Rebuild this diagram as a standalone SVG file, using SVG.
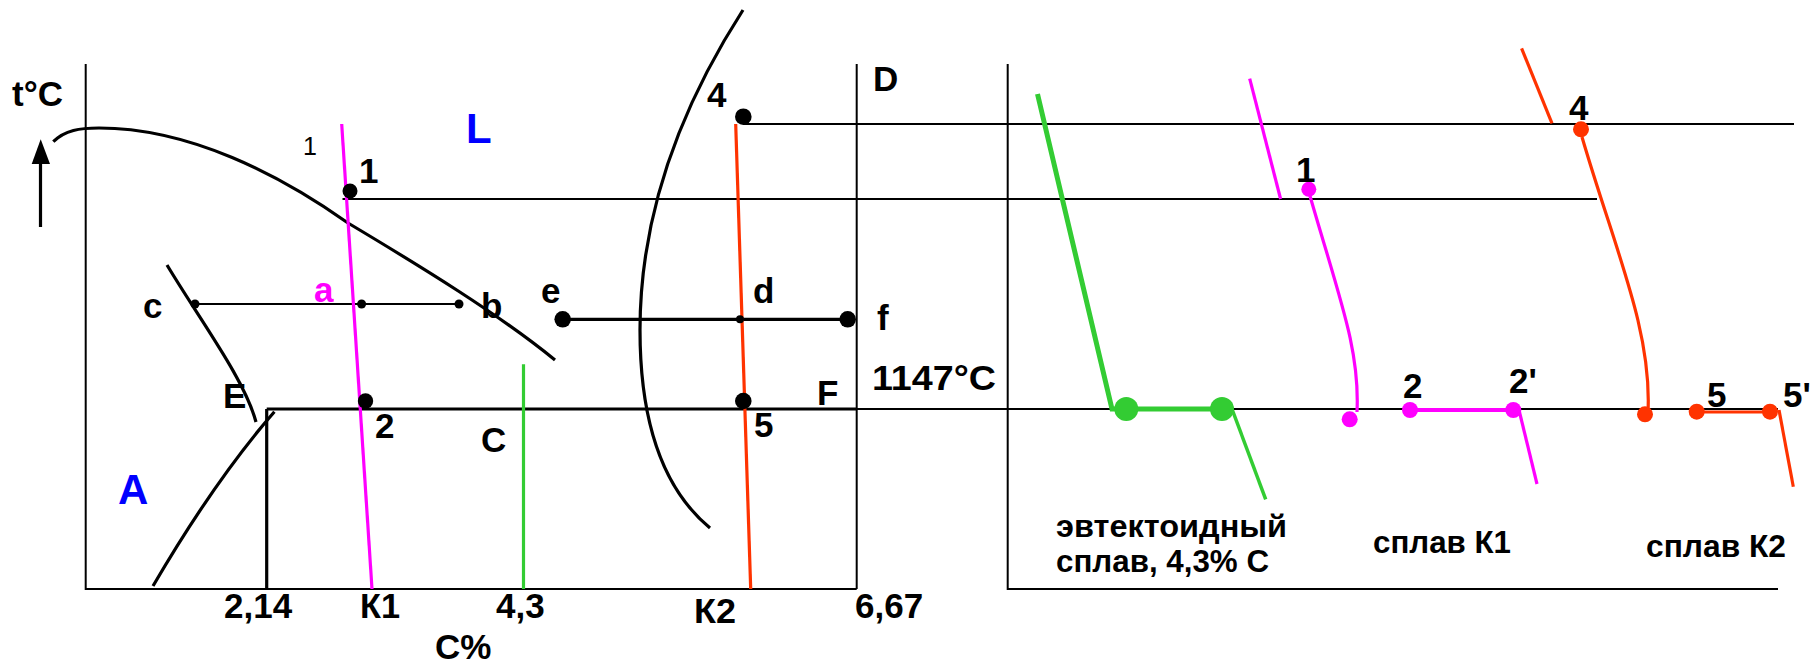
<svg xmlns="http://www.w3.org/2000/svg" width="1814" height="666" viewBox="0 0 1814 666">
<style>
  .thin{fill:none;stroke:#000;stroke-width:2}
  .thick{fill:none;stroke:#000;stroke-width:3.2}
  .mag{fill:none;stroke:#ff00ff;stroke-width:3.2}
  .red{fill:none;stroke:#ff3300;stroke-width:3.2}
  .grn{fill:none;stroke:#33cc33;stroke-width:3.5}
  .dk{fill:#000}
  .dm{fill:#ff00ff}
  .dr{fill:#ff3300}
  .dg{fill:#33cc33}
  text{font-family:"Liberation Sans",Arial,sans-serif;font-weight:bold;font-size:35px;fill:#000}
  .blue{fill:#0000ff;font-size:42px}
  .pink{fill:#ff00ff}
  .small{font-weight:normal;font-size:25px}
  .cap{font-size:31px}
</style>
<rect width="1814" height="666" fill="#fff"/>

<g id="connectors">
  <!-- left panel frame -->
  <path class="thin" d="M85.7,64 V589 H856.7"/>
  <path class="thin" d="M856.7,64 V589"/>
  <!-- right panel frame -->
  <path class="thin" d="M1007.7,64 V589 H1778"/>
  <!-- projection lines -->
  <path class="thin" d="M743,124 H1794"/>
  <path class="thin" d="M342.5,199 H1597"/>
  <path class="thick" d="M266.7,409 H856.7"/>
  <path class="thin" d="M856.7,409 H1778"/>
  <path class="thick" d="M266.7,409 V589"/>
  <!-- temperature arrow -->
  <path class="thick" d="M40.5,227 V160"/>
  <polygon class="dk" points="40.7,139.3 31.7,164 50,164"/>
  <!-- phase curves -->
  <path class="thick" d="M53.3,141.7 C65,130 80,128 99,128 C190,128 280,175 348,223 C420,266 500,315 555,360"/>
  <path class="thick" d="M167,265 C200,320 245,380 256,422"/>
  <path class="thick" d="M153,586 Q215,480 274.4,411.7"/>
  <path class="thick" d="M743,10 Q640,170 640,330 Q640,470 710,528"/>
  <!-- tie lines -->
  <path class="thin" d="M195,304 H459"/>
  <path class="thick" d="M562.7,319.3 H847.7"/>
  <!-- alloy verticals -->
  <path class="mag" d="M341.7,124 L372,589"/>
  <path class="red" d="M735.7,124 L750.7,589"/>
  <path class="grn" d="M523.5,364.3 V589" style="stroke-width:3.2"/>
  <!-- cooling curves -->
  <path class="grn" d="M1037.5,94 L1112,409 H1222" style="stroke-width:5"/>
  <path class="grn" d="M1232,409 L1265.7,499.3"/>
  <path class="mag" d="M1249.7,78.7 L1280.6,199"/>
  <path class="mag" d="M1310,196 C1340,300 1360,350 1357,412"/>
  <path class="mag" d="M1410,410 H1513" style="stroke-width:4"/>
  <path class="mag" d="M1519,410 L1537,484"/>
  <path class="red" d="M1521.6,48.3 L1552,123.3"/>
  <path class="red" d="M1582,137 C1615,250 1652,330 1648,412"/>
  <path class="red" d="M1697,412 H1771"/>
  <path class="red" d="M1779,410 L1793.3,486.7"/>
</g>

<g id="point-1"><circle class="dk" cx="350" cy="191" r="7.5"/><text x="359" y="182.7">1</text></g>
<g id="point-2"><circle class="dk" cx="365.5" cy="401" r="7.7"/><text x="375" y="438">2</text></g>
<g id="point-4"><circle class="dk" cx="743.3" cy="116.7" r="8.3"/><text x="707" y="107">4</text></g>
<g id="point-5"><circle class="dk" cx="743.3" cy="401" r="8.3"/><text x="754" y="436.7">5</text></g>
<g id="point-c"><circle class="dk" cx="195" cy="304" r="4.5"/><text x="143" y="318">c</text></g>
<g id="point-a"><circle class="dk" cx="361.6" cy="304" r="4.5"/><text class="pink" x="314" y="302">a</text></g>
<g id="point-b"><circle class="dk" cx="459" cy="304" r="4.5"/><text x="481" y="318">b</text></g>
<g id="point-e"><circle class="dk" cx="562.7" cy="319.3" r="8.3"/><text x="541" y="302.7">e</text></g>
<g id="point-d"><circle class="dk" cx="740" cy="319.3" r="4"/><text x="753" y="302.7">d</text></g>
<g id="point-f"><circle class="dk" cx="847.7" cy="319.3" r="8.3"/><text x="877" y="330">f</text></g>

<g id="labels-left">
  <text x="12" y="106">t°C</text>
  <text class="blue" x="466" y="143">L</text>
  <text class="small" x="303" y="155">1</text>
  <text class="blue" x="118" y="504">A</text>
  <text x="873" y="90.7">D</text>
  <text x="223" y="408">E</text>
  <text x="481" y="451.7">C</text>
  <text x="817" y="405">F</text>
  <text x="872" y="390" font-size="34" textLength="124" lengthAdjust="spacingAndGlyphs">1147°C</text>
  <text x="224" y="618">2,14</text>
  <text x="360" y="618" textLength="40" lengthAdjust="spacingAndGlyphs">К1</text>
  <text x="496" y="618">4,3</text>
  <text x="435" y="659">C%</text>
  <text x="694" y="623" textLength="42" lengthAdjust="spacingAndGlyphs">К2</text>
  <text x="855" y="618">6,67</text>
</g>

<g id="curve-eutectic">
  <circle class="dg" cx="1126.3" cy="409" r="12"/>
  <circle class="dg" cx="1222" cy="409" r="12"/>
  <text class="cap" x="1056" y="537" textLength="231" lengthAdjust="spacingAndGlyphs">эвтектоидный</text>
  <text class="cap" x="1056" y="572" textLength="213" lengthAdjust="spacingAndGlyphs">сплав, 4,3% С</text>
</g>

<g id="curve-K1">
  <circle class="dm" cx="1308.8" cy="189.3" r="7.5"/>
  <circle class="dm" cx="1349.7" cy="419.3" r="8"/>
  <circle class="dm" cx="1410" cy="410" r="8"/>
  <circle class="dm" cx="1513.3" cy="410" r="8"/>
  <text x="1296" y="181.7">1</text>
  <text x="1403" y="398">2</text>
  <text x="1509" y="393">2'</text>
  <text class="cap" x="1373" y="553" textLength="138" lengthAdjust="spacingAndGlyphs">сплав К1</text>
</g>

<g id="curve-K2">
  <circle class="dr" cx="1581" cy="129.3" r="8"/>
  <circle class="dr" cx="1645" cy="414.3" r="8"/>
  <circle class="dr" cx="1696.7" cy="411.7" r="8"/>
  <circle class="dr" cx="1770" cy="411.7" r="8"/>
  <text x="1569" y="120">4</text>
  <text x="1707" y="406.7">5</text>
  <text x="1783" y="406.7">5'</text>
  <text class="cap" x="1646" y="557" textLength="140" lengthAdjust="spacingAndGlyphs">сплав К2</text>
</g>
</svg>
